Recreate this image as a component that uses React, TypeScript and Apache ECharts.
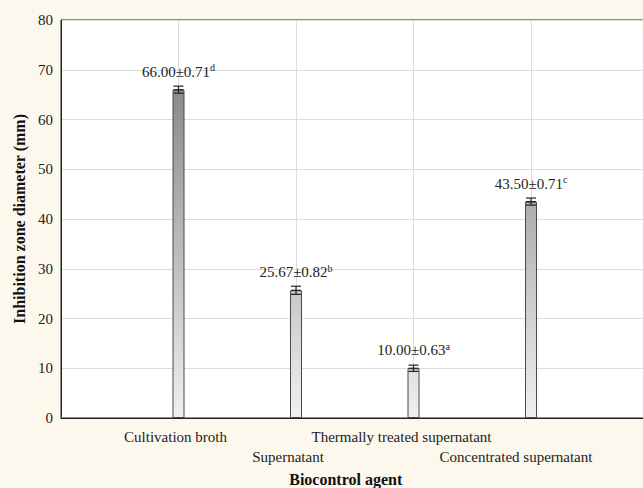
import React, { useEffect, useRef } from "react";
import * as echarts from "echarts";

const categories = ["Cultivation broth", "Supernatant", "Thermally treated supernatant", "Concentrated supernatant"];
const means = [66.0, 25.67, 10.0, 43.5];
const errors = [0.71, 0.82, 0.63, 0.71];
const letters = ["d", "b", "a", "c"];
const yTicks = [0, 10, 20, 30, 40, 50, 60, 70, 80];

const FONT = "'Liberation Serif', 'Times New Roman', serif";

export default function App() {
  const ref = useRef<HTMLDivElement>(null);
  useEffect(() => {
    if (!ref.current) return;
    const chart = echarts.init(ref.current, undefined, { renderer: "svg" });
    const barData = means.map((v, i) => [i + 1, v]);
    const errData = means.map((v, i) => [i + 1, v - errors[i], v + errors[i]]);
    const shiftPad = [6, 16, 24, 30];
    chart.setOption({
      animation: false,
      backgroundColor: "#fdf8ed",
      grid: {
        left: 61,
        top: 20,
        right: 1.5,
        bottom: 70,
        show: true,
        backgroundColor: "#ffffff",
        borderColor: "#222",
        borderWidth: 1,
        containLabel: false,
        outerBoundsMode: "none",
      },
      xAxis: {
        type: "value",
        min: 0,
        max: 5,
        interval: 1,
        name: "Biocontrol agent",
        nameLocation: "middle",
        nameGap: 53,
        nameTextStyle: { fontFamily: FONT, fontWeight: "bold", fontSize: 16, color: "#111", padding: [0, 18, 0, 0] },
        axisLine: { show: true, lineStyle: { color: "#222", width: 1 } },
        axisTick: { show: true, inside: true, length: 3, lineStyle: { color: "#444" } },
        splitLine: { show: true, lineStyle: { color: "#dcdcdc", width: 1 } },
        axisLabel: {
          margin: 11,
          fontFamily: FONT,
          fontSize: 15,
          color: "#222",
          formatter: (v: number) => {
            const i = Math.round(v) - 1;
            if (i < 0 || i >= categories.length) return "";
            return (i % 2 === 0 ? "{a" : "{b") + i + "|" + categories[i] + "}";
          },
          rich: Object.fromEntries(
            categories.flatMap((_, i) => [
              ["a" + i, { fontFamily: FONT, fontSize: 15, color: "#222", padding: [0, shiftPad[i], 0, 0] }],
              ["b" + i, { fontFamily: FONT, fontSize: 15, color: "#222", padding: [20, shiftPad[i], 0, 0] }],
            ])
          ),
        },
      },
      yAxis: {
        type: "value",
        min: yTicks[0],
        max: yTicks[yTicks.length - 1],
        interval: 10,
        name: "Inhibition zone diameter (mm)",
        nameLocation: "middle",
        nameGap: 34,
        nameTextStyle: { fontFamily: FONT, fontWeight: "bold", fontSize: 16, color: "#111" },
        axisLine: { show: true, lineStyle: { color: "#222", width: 1 } },
        axisTick: { show: false },
        splitLine: { show: true, lineStyle: { color: "#dcdcdc", width: 1 } },
        axisLabel: { margin: 8, fontFamily: FONT, fontSize: 15, color: "#222" },
      },
      series: [
        {
          type: "bar",
          data: barData,
          barWidth: 12,
          itemStyle: {
            color: new echarts.graphic.LinearGradient(0, 90, 0, 418, [
              { offset: 0, color: "#8a8a8a" },
              { offset: 1, color: "#f0f0f0" },
            ], true),
            borderColor: "#4a4a4a",
            borderWidth: 1,
          },
          label: {
            show: true,
            position: "top",
            distance: 9,
            formatter: (p: any) => `{n|${means[p.dataIndex].toFixed(2)}±${errors[p.dataIndex].toFixed(2)}}{s|${letters[p.dataIndex]}}`,
            rich: {
              n: { fontFamily: FONT, fontSize: 15, color: "#222" },
              s: { fontFamily: FONT, fontSize: 10, color: "#222", padding: [0, 0, 8, 0] },
            },
          },
          z: 2,
        },
        {
          type: "custom",
          data: errData,
          z: 3,
          renderItem: (params: any, api: any) => {
            const x = api.value(0);
            const lo = api.coord([x, api.value(1)]);
            const hi = api.coord([x, api.value(2)]);
            const half = 5;
            const style = { stroke: "#222", lineWidth: 1.2 };
            return {
              type: "group",
              children: [
                { type: "line", shape: { x1: lo[0], y1: lo[1], x2: hi[0], y2: hi[1] }, style },
                { type: "line", shape: { x1: lo[0] - half, y1: lo[1], x2: lo[0] + half, y2: lo[1] }, style },
                { type: "line", shape: { x1: hi[0] - half, y1: hi[1], x2: hi[0] + half, y2: hi[1] }, style },
                { type: "line", shape: { x1: lo[0] - half, y1: (lo[1] + hi[1]) / 2, x2: lo[0] + half, y2: (lo[1] + hi[1]) / 2 }, style },
              ],
            };
          },
        },
      ],
    });
    return () => chart.dispose();
  }, []);
  return (
    <div style={{ position: "fixed", left: 0, top: 0, width: 643, height: 488, overflow: "hidden" }}>
      <div ref={ref} style={{ width: 650, height: 488 }} />
    </div>
  );
}
